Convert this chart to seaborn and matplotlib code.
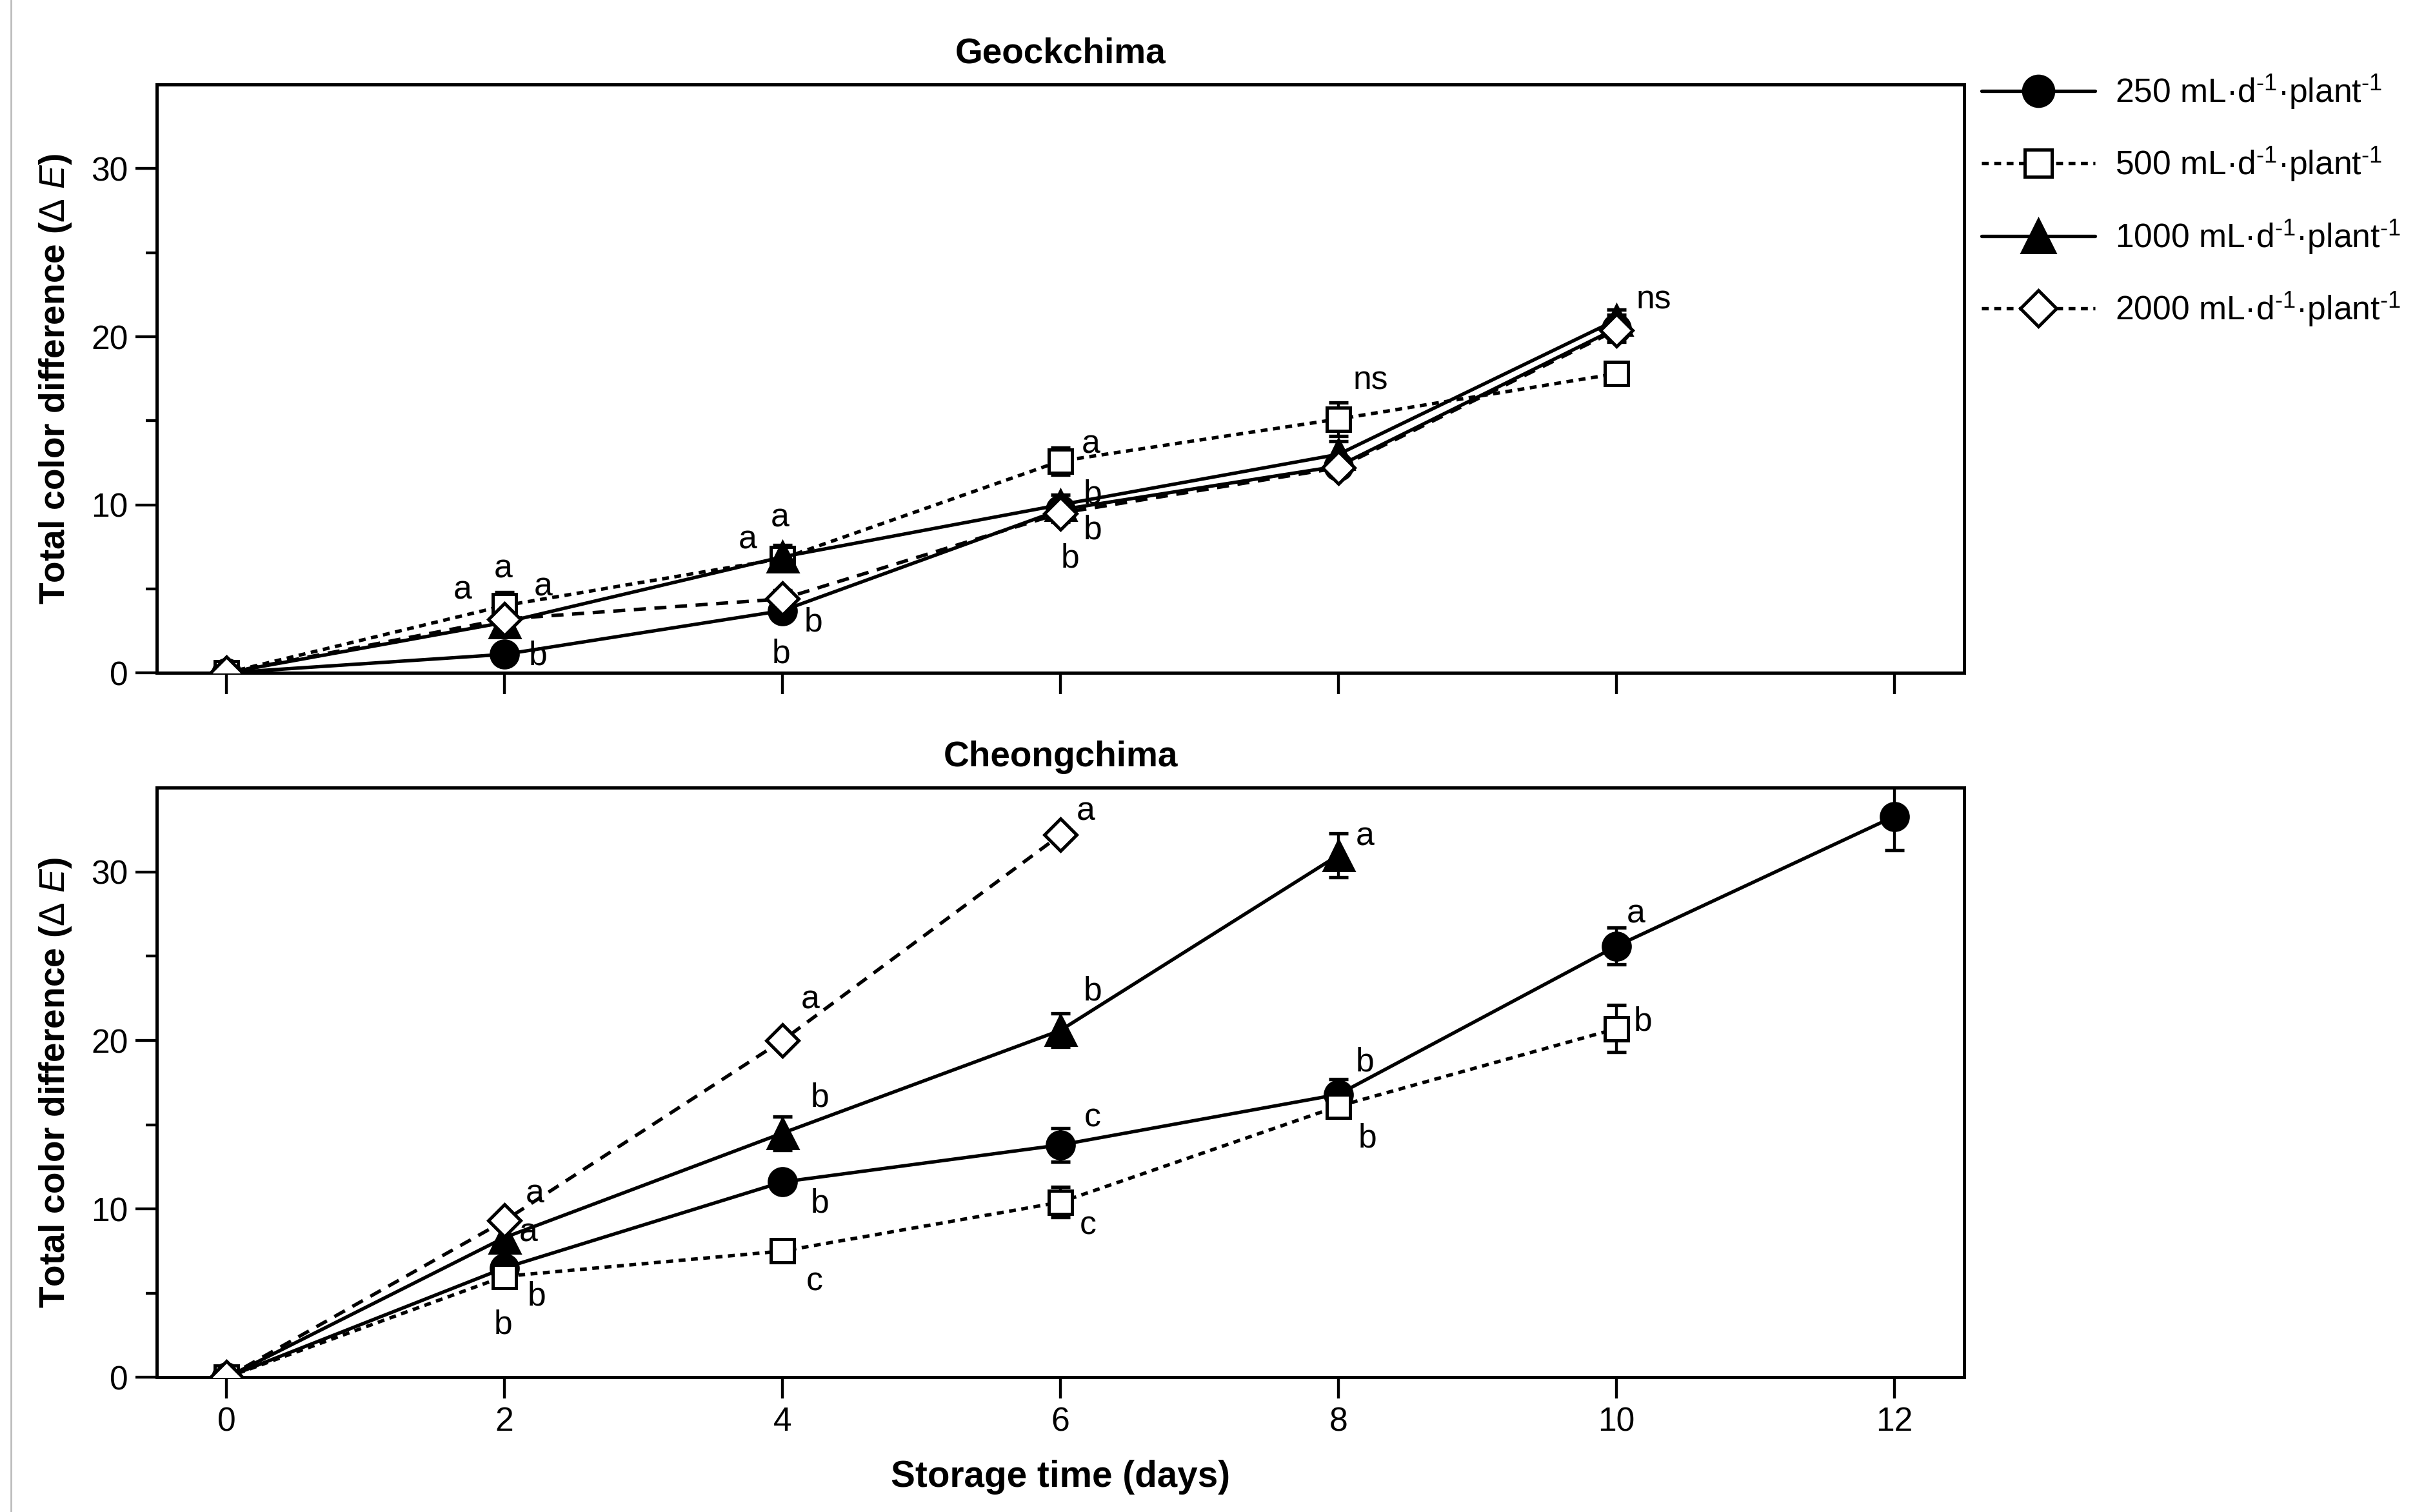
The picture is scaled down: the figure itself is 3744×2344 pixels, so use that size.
import numpy as np
import pandas as pd
import matplotlib
matplotlib.use("Agg")
import matplotlib.pyplot as plt
import seaborn as sns
from matplotlib.lines import Line2D

# ---------------- data ----------------
treatments = ["250", "500", "1000", "2000"]
legend_labels = [
    "250 mL\u00b7d$^{\u20101}$\u00b7plant$^{\u20101}$",
    "500 mL\u00b7d$^{\u20101}$\u00b7plant$^{\u20101}$",
    "1000 mL\u00b7d$^{\u20101}$\u00b7plant$^{\u20101}$",
    "2000 mL\u00b7d$^{\u20101}$\u00b7plant$^{\u20101}$",
]

# Geockchima
geo_days = [0, 2, 4, 6, 8, 10]
geo_250 = [0.0, 1.1, 3.7, 9.7, 12.3, 20.5]
geo_500 = [0.0, 4.0, 6.8, 12.6, 15.1, 17.8]
geo_1000 = [0.0, 3.0, 6.9, 10.0, 13.0, 21.0]
geo_2000 = [0.0, 3.2, 4.4, 9.5, 12.2, 20.4]
geo_250_err = [0.0, 0.2, 0.5, 0.4, 0.4, 0.8]
geo_500_err = [0.0, 0.8, 0.5, 0.8, 1.0, 0.5]
geo_1000_err = [0.0, 0.5, 0.7, 0.6, 0.8, 0.6]
geo_2000_err = [0.0, 0.3, 0.5, 0.5, 0.4, 0.4]

# Cheongchima
cheong_days_250 = [0, 2, 4, 6, 8, 10, 12]
cheong_days_500 = [0, 2, 4, 6, 8, 10]
cheong_days_1000 = [0, 2, 4, 6, 8]
cheong_days_2000 = [0, 2, 4, 6]
cheong_250 = [0.0, 6.5, 11.6, 13.8, 16.8, 25.6, 33.3]
cheong_500 = [0.0, 6.0, 7.5, 10.4, 16.1, 20.7]
cheong_1000 = [0.0, 8.3, 14.5, 20.6, 31.0]
cheong_2000 = [0.0, 9.3, 20.0, 32.2]
cheong_250_err = [0.0, 0.5, 0.5, 1.0, 0.9, 1.1, 2.0]
cheong_500_err = [0.0, 0.4, 0.4, 0.9, 0.6, 1.4]
cheong_1000_err = [0.0, 0.6, 1.0, 1.0, 1.3]
cheong_2000_err = [0.0, 0.3, 0.4, 0.3]

# significance letters (x, y, text)
geo_letters = [
    (1.70, 4.9, "a"), (1.99, 6.2, "a"), (2.28, 5.1, "a"), (2.24, 1.0, "b"),
    (3.75, 7.9, "a"), (3.98, 9.2, "a"), (4.22, 3.0, "b"), (3.99, 1.1, "b"),
    (6.22, 13.6, "a"), (6.23, 10.6, "b"), (6.23, 8.5, "b"), (6.07, 6.8, "b"),
    (8.23, 17.4, "ns"), (10.27, 22.2, "ns"),
]
cheong_letters = [
    (6.18, 33.6, "a"), (8.19, 32.1, "a"), (4.20, 22.4, "a"), (6.23, 22.9, "b"),
    (10.14, 27.5, "a"), (8.19, 18.7, "b"), (4.27, 16.6, "b"), (6.23, 15.4, "c"),
    (10.19, 21.1, "b"), (2.22, 10.9, "a"), (2.17, 8.6, "a"), (4.27, 10.3, "b"),
    (6.20, 9.0, "c"), (8.21, 14.2, "b"), (4.23, 5.7, "c"), (2.23, 4.8, "b"),
    (1.99, 3.1, "b"),
]

# ---------------- style ----------------
sns.set_theme(style="ticks")
plt.rcParams["font.family"] = ["Liberation Sans", "DejaVu Sans"]
plt.rcParams["mathtext.fontset"] = "custom"
plt.rcParams["mathtext.rm"] = "Liberation Sans"
plt.rcParams["mathtext.it"] = "Liberation Sans:italic"
plt.rcParams["mathtext.bf"] = "Liberation Sans:bold"
plt.rcParams["mathtext.default"] = "rm"
plt.rcParams["text.color"] = "black"
plt.rcParams["axes.labelcolor"] = "black"
plt.rcParams["axes.titlecolor"] = "black"
plt.rcParams["xtick.color"] = "black"
plt.rcParams["ytick.color"] = "black"

styles = {
    "250": dict(marker="o", mfc="black", ls="-", ms=12.5),
    "500": dict(marker="s", mfc="white", ls=(0, (2.0, 1.6)), ms=11),
    "1000": dict(marker="^", mfc="black", ls="-", ms=13.5),
    "2000": dict(marker="D", mfc="white", ls=(0, (3.5, 2.5)), ms=10.5),
}

fig = plt.figure(figsize=(15.604, 9.767), dpi=240)
ax1 = fig.add_axes([0.065, 0.555, 0.748, 0.389])
ax2 = fig.add_axes([0.065, 0.089, 0.748, 0.390])


def draw(ax, series, letters):
    for trt, days, vals, errs, lab in series:
        st = styles[trt]
        ax.errorbar(days, vals, yerr=errs, fmt="none", ecolor="black",
                    elinewidth=1.3, capsize=4.5, capthick=1.6, zorder=2)
        df = pd.DataFrame({"day": days, "dE": vals})
        sns.lineplot(data=df, x="day", y="dE", ax=ax, color="black",
                     marker=st["marker"], markersize=st["ms"],
                     markerfacecolor=st["mfc"], markeredgecolor="black",
                     markeredgewidth=1.5, linestyle=st["ls"], linewidth=1.6,
                     errorbar=None, label=lab, zorder=3, legend=False)
    for x, y, t in letters:
        ax.text(x, y, t, ha="center", va="center", fontsize=15.5, color="black",
                zorder=5)
    ax.set_xlim(-0.5, 12.5)
    ax.set_ylim(0, 35)
    ax.set_xticks([0, 2, 4, 6, 8, 10, 12])
    ax.set_yticks([0, 10, 20, 30])
    ax.set_yticks([5, 15, 25], minor=True)
    for s in ax.spines.values():
        s.set_linewidth(1.5)
        s.set_color("black")
    ax.tick_params(axis="both", which="major", direction="out", length=10,
                   width=1.3, labelsize=15.5, colors="black")
    ax.tick_params(axis="y", which="minor", direction="out", length=5, width=1.3)
    ax.set_ylabel(r"Total color difference ($\Delta$ $\mathit{E}$)",
                  fontsize=16.5, fontweight="bold", labelpad=8, color="black")


geo_series = [
    ("250", geo_days, geo_250, geo_250_err, legend_labels[0]),
    ("500", geo_days, geo_500, geo_500_err, legend_labels[1]),
    ("1000", geo_days, geo_1000, geo_1000_err, legend_labels[2]),
    ("2000", geo_days, geo_2000, geo_2000_err, legend_labels[3]),
]
cheong_series = [
    ("250", cheong_days_250, cheong_250, cheong_250_err, legend_labels[0]),
    ("500", cheong_days_500, cheong_500, cheong_500_err, legend_labels[1]),
    ("1000", cheong_days_1000, cheong_1000, cheong_1000_err, legend_labels[2]),
    ("2000", cheong_days_2000, cheong_2000, cheong_2000_err, legend_labels[3]),
]

draw(ax1, geo_series, geo_letters)
draw(ax2, cheong_series, cheong_letters)

ax1.set_xticklabels([])
ax1.set_xlabel("")
ax1.set_title("Geockchima", fontsize=16.5, fontweight="bold", pad=10, color="black")
ax2.set_title("Cheongchima", fontsize=16.5, fontweight="bold", pad=10, color="black")
ax2.set_xlabel("Storage time (days)", fontsize=17, fontweight="bold", labelpad=10,
               color="black")

# legend
handles = []
for trt, lab in zip(treatments, legend_labels):
    st = styles[trt]
    handles.append(Line2D([0], [0], color="black", marker=st["marker"],
                          markersize=st["ms"] + 1.5, markerfacecolor=st["mfc"],
                          markeredgecolor="black", markeredgewidth=1.5,
                          linestyle=st["ls"] if st["ls"] == "-" else (0, (2.0, 1.6)),
                          linewidth=1.6, label=lab))
leg = fig.legend(handles=handles, loc="upper left", bbox_to_anchor=(0.808, 0.972),
                 frameon=False, fontsize=15.5, handlelength=3.4, labelspacing=1.0,
                 handletextpad=0.6)
for t in leg.get_texts():
    t.set_color("black")

# thin left border line as in the source image
fig.add_artist(Line2D([0.0045, 0.0045], [0.0, 1.0], color="#bbbbbb", lw=0.8,
                      transform=fig.transFigure))

fig.savefig("out.png", dpi=240, facecolor="white")
